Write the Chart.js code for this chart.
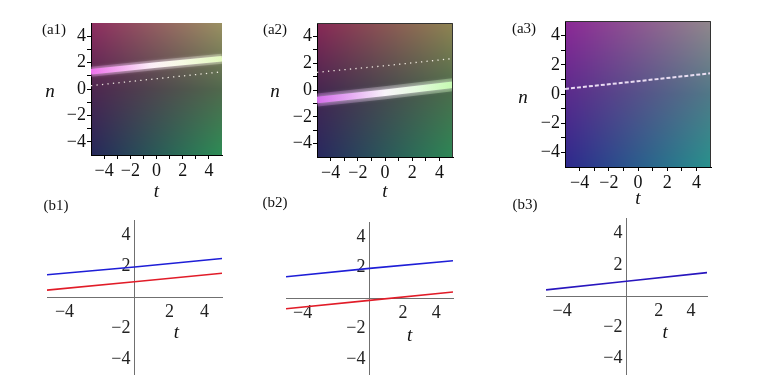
<!DOCTYPE html>
<html>
<head>
<meta charset="utf-8">
<script src="https://cdn.jsdelivr.net/npm/chart.js@4.4.1/dist/chart.umd.min.js"></script>
<style>
  html, body { margin: 0; padding: 0; background: #fff; }
  #fig { position: relative; width: 763px; height: 389px; overflow: hidden; }
  #fig canvas { position: absolute; }
</style>
</head>
<body>
<div id="fig">
  <canvas id="a1"></canvas>
  <canvas id="a2"></canvas>
  <canvas id="a3"></canvas>
  <canvas id="b1"></canvas>
  <canvas id="b2"></canvas>
  <canvas id="b3"></canvas>
</div>
<script>
// t samples where the curves were read (left edge, middle, right edge)
const tSamples = [-5, 0, 5];

// top row: density plots
const a1Band = [1.3, 1.82, 2.3];
const a1Dots = [0.25, 0.78, 1.3];
const a2Band = [-0.75, -0.2, 0.4];
const a2Dots = [1.32, 1.81, 2.35];
const a3Dash = [0.35, 0.88, 1.42];

// bottom row: line plots
const b1Blue = [1.45, 1.95, 2.5];
const b1Red = [0.45, 1.0, 1.55];
const b2Blue = [1.4, 1.95, 2.45];
const b2Red = [-0.7, -0.15, 0.4];
const b3Blue = [0.4, 0.95, 1.5];

// tick values
const heatTicks = [-4, -3, -2, -1, 0, 1, 2, 3, 4];
const lineXTicks = [-4, 2, 4];
const lineYTicks = [-4, -2, 2, 4];

const SERIF = "'Liberation Serif', 'Times New Roman', serif";

const fmt = v => (v < 0 ? '\u2212' + Math.abs(v) : String(v));
const pts = arr => tSamples.map((t, i) => ({ x: t, y: arr[i] }));

// colour field behind the density plots (rows: top, n=0, bottom; cols: left, right)
const heatA1 = [[[142, 45, 96], [154, 144, 98]], [[78, 38, 80], [80, 104, 76]], [[38, 40, 90], [45, 140, 85]]];
const heatA2 = [[[136, 40, 86], [142, 132, 82]], [[70, 38, 80], [75, 108, 75]], [[40, 40, 95], [45, 135, 85]]];
const heatA3 = [[[140, 40, 150], [145, 135, 140]], [[90, 42, 140], [80, 120, 135]], [[45, 40, 140], [40, 145, 140]]];

// text placed on each panel (page pixels, or data coords via "at")
const noteMap = {};

const heatField = {
  id: 'heatField',
  beforeDraw(chart, args, opts) {
    if (!opts.colors) return;
    const { ctx, chartArea: a } = chart;
    const c = opts.colors;
    const x0 = Math.round(a.left), y0 = Math.round(a.top);
    const w = Math.round(a.right) - x0, h = Math.round(a.bottom) - y0;
    const img = ctx.createImageData(w, h);
    const lerp = (p, q, f) => p + (q - p) * f;
    for (let j = 0; j < h; j++) {
      const v = j / (h - 1);
      const r0 = v < 0.5 ? c[0] : c[1];
      const r1 = v < 0.5 ? c[1] : c[2];
      const f = v < 0.5 ? v * 2 : (v - 0.5) * 2;
      for (let i = 0; i < w; i++) {
        const u = i / (w - 1);
        const k = (j * w + i) * 4;
        for (let ch = 0; ch < 3; ch++) {
          img.data[k + ch] = lerp(lerp(r0[0][ch], r0[1][ch], u), lerp(r1[0][ch], r1[1][ch], u), f);
        }
        img.data[k + 3] = 255;
      }
    }
    ctx.putImageData(img, x0, y0);
  }
};

const glow = {
  id: 'glow',
  beforeDatasetDraw(chart, args) {
    const ds = chart.data.datasets[args.index];
    chart.ctx.save();
    if (ds.glowColor) {
      chart.ctx.shadowColor = ds.glowColor;
      chart.ctx.shadowBlur = ds.glowBlur || 6;
    }
  },
  afterDatasetDraw(chart) {
    chart.ctx.restore();
  }
};

const frame = {
  id: 'frame',
  afterDraw(chart, args, opts) {
    if (!opts.color) return;
    const { ctx, chartArea: a } = chart;
    ctx.save();
    ctx.strokeStyle = opts.color;
    ctx.lineWidth = 1;
    ctx.beginPath();
    ctx.moveTo(a.left, a.top + 0.5);
    ctx.lineTo(a.right - 0.5, a.top + 0.5);
    ctx.lineTo(a.right - 0.5, a.bottom);
    ctx.stroke();
    ctx.restore();
  }
};

const notes = {
  id: 'notes',
  afterDraw(chart) {
    const entry = noteMap[chart.canvas.id];
    if (!entry) return;
    const ctx = chart.ctx;
    entry.items.forEach(it => {
      let x, y;
      if (it.at) {
        x = chart.scales.x.getPixelForValue(it.at[0]);
        y = chart.scales.y.getPixelForValue(it.at[1]);
      } else {
        x = it.x - entry.box.l;
        y = it.y - entry.box.t;
      }
      ctx.save();
      ctx.font = (it.italic ? 'italic ' : '') + it.size + 'px ' + SERIF;
      ctx.fillStyle = '#111';
      ctx.textAlign = 'center';
      ctx.textBaseline = 'middle';
      ctx.fillText(it.text, x, y);
      ctx.restore();
    });
  }
};

Chart.register(heatField, glow, frame, notes);

function place(id, box, labels) {
  const cv = document.getElementById(id);
  cv.width = box.w;
  cv.height = box.h;
  cv.style.left = box.l + 'px';
  cv.style.top = box.t + 'px';
  noteMap[id] = { box, items: labels };
  return cv;
}

function bandGradient(stops) {
  return c => {
    const a = c.chart.chartArea;
    if (!a) return '#fff';
    const g = c.chart.ctx.createLinearGradient(a.left, 0, a.right, 0);
    stops.forEach(s => g.addColorStop(s[0], s[1]));
    return g;
  };
}

function heatPanel(id, box, area, colors, datasets, labels, frameColor) {
  const cv = place(id, box, labels);
  const yW = area.l - box.l;
  const xH = box.t + box.h - area.b;
  const axisCommon = {
    type: 'linear', min: -5, max: 5,
    grid: { drawOnChartArea: false, tickLength: 4, color: '#000', tickColor: '#000' },
    border: { color: '#000', width: 1 },
    ticks: {
      font: { family: SERIF, size: 18 }, color: '#111', padding: 1,
      maxRotation: 0, autoSkip: false,
      callback: v => (v % 2 === 0 ? fmt(v) : '')
    }
  };
  return new Chart(cv, {
    type: 'line',
    data: { datasets },
    options: {
      responsive: false, animation: false, events: [],
      layout: { padding: { left: 0, top: area.t - box.t, right: box.l + box.w - area.r, bottom: 0 } },
      elements: { point: { radius: 0 }, line: { tension: 0 } },
      plugins: {
        legend: { display: false }, tooltip: { enabled: false },
        heatField: { colors },
        frame: { color: frameColor }
      },
      scales: {
        x: Object.assign({}, axisCommon, {
          afterBuildTicks: s => { s.ticks = heatTicks.map(v => ({ value: v })); },
          afterFit: s => { s.height = xH; },
          title: { display: true, text: 't', color: '#111', padding: 0,
                   font: { family: SERIF, size: 19, style: 'italic', lineHeight: 1 } }
        }),
        y: Object.assign({}, axisCommon, {
          afterBuildTicks: s => { s.ticks = heatTicks.map(v => ({ value: v })); },
          afterFit: s => { s.width = yW; }
        })
      }
    }
  });
}

function linePanel(id, box, area, datasets, labels) {
  const cv = place(id, box, labels);
  const axisCommon = {
    type: 'linear', min: -5, max: 5, position: 'center',
    grid: { display: true, drawOnChartArea: false, drawTicks: false },
    border: { color: '#707070', width: 1 },
    ticks: { font: { family: SERIF, size: 18 }, color: '#222', padding: 4, maxRotation: 0, autoSkip: false, callback: v => fmt(v) }
  };
  return new Chart(cv, {
    type: 'line',
    data: { datasets },
    options: {
      responsive: false, animation: false, events: [],
      layout: { padding: { left: area.l - box.l, top: area.t - box.t, right: box.l + box.w - area.r, bottom: box.t + box.h - area.b } },
      elements: { point: { radius: 0 }, line: { tension: 0 } },
      plugins: { legend: { display: false }, tooltip: { enabled: false } },
      scales: {
        x: Object.assign({}, axisCommon, {
          afterBuildTicks: s => { s.ticks = lineXTicks.map(v => ({ value: v })); }
        }),
        y: Object.assign({}, axisCommon, {
          afterBuildTicks: s => { s.ticks = lineYTicks.map(v => ({ value: v })); }
        })
      }
    }
  });
}

const bandStopsA1 = [[0, 'rgb(238,112,236)'], [0.25, 'rgb(246,180,242)'], [0.45, 'rgb(252,238,248)'], [0.7, 'rgb(248,252,228)'], [1, 'rgb(228,250,190)']];
const bandStopsA2 = [[0, 'rgb(214,108,236)'], [0.25, 'rgb(228,168,242)'], [0.5, 'rgb(246,242,248)'], [0.75, 'rgb(228,252,222)'], [1, 'rgb(196,250,176)']];
const haloStopsA1 = [[0, 'rgba(236,118,236,0.3)'], [0.5, 'rgba(255,245,250,0.22)'], [1, 'rgba(226,250,190,0.3)']];
const haloStopsA2 = [[0, 'rgba(214,112,236,0.3)'], [0.5, 'rgba(255,250,255,0.25)'], [1, 'rgba(196,250,176,0.35)']];

// (a1)
heatPanel('a1', { l: 30, t: 0, w: 215, h: 201 }, { l: 91, t: 23, r: 222, b: 155 }, heatA1, [
  { data: pts(a1Band), borderColor: bandGradient(haloStopsA1), borderWidth: 10 },
  { data: pts(a1Band), borderColor: bandGradient(bandStopsA1), borderWidth: 5.5, glowColor: 'rgba(255,230,255,0.7)', glowBlur: 4 },
  { data: pts(a1Band), borderColor: 'rgba(110,105,120,0.6)', borderWidth: 1.2, borderDash: [2, 3] },
  { data: pts(a1Dots), borderColor: 'rgba(255,250,240,0.9)', borderWidth: 1.3, borderDash: [1.3, 4.2] }
], [
  { text: '(a1)', x: 54, y: 30, size: 15 },
  { text: 'n', x: 50, y: 92, size: 19, italic: true }
]);

// (a2)
heatPanel('a2', { l: 255, t: 0, w: 215, h: 201 }, { l: 317, t: 23, r: 453, b: 157 }, heatA2, [
  { data: pts(a2Band), borderColor: bandGradient(haloStopsA2), borderWidth: 13 },
  { data: pts(a2Band), borderColor: bandGradient(bandStopsA2), borderWidth: 6.5, glowColor: 'rgba(250,235,255,0.7)', glowBlur: 5 },
  { data: pts(a2Band), borderColor: 'rgba(120,115,130,0.45)', borderWidth: 1.2, borderDash: [2, 3] },
  { data: pts(a2Dots), borderColor: 'rgba(255,250,240,0.9)', borderWidth: 1.3, borderDash: [1.3, 4.2] }
], [
  { text: '(a2)', x: 275, y: 30, size: 15 },
  { text: 'n', x: 275, y: 92, size: 19, italic: true }
], '#333');

// (a3)
heatPanel('a3', { l: 500, t: 0, w: 230, h: 208 }, { l: 565, t: 21, r: 711, b: 167 }, heatA3, [
  { data: pts(a3Dash), borderColor: 'rgba(240,228,248,0.95)', borderWidth: 2, borderDash: [4, 2] }
], [
  { text: '(a3)', x: 524, y: 29, size: 15 },
  { text: 'n', x: 523, y: 98, size: 19, italic: true }
], '#333');

// (b1)
linePanel('b1', { l: 30, t: 195, w: 220, h: 194 }, { l: 47, t: 220, r: 222, b: 380 }, [
  { data: pts(b1Blue), borderColor: 'rgb(30,30,215)', borderWidth: 1.6 },
  { data: pts(b1Red), borderColor: 'rgb(225,28,40)', borderWidth: 1.6 }
], [
  { text: '(b1)', x: 56, y: 206, size: 15 },
  { text: 't', at: [2.4, -2.3], size: 19, italic: true }
]);

// (b2)
linePanel('b2', { l: 255, t: 195, w: 215, h: 194 }, { l: 286, t: 222, r: 453, b: 378 }, [
  { data: pts(b2Blue), borderColor: 'rgb(30,30,215)', borderWidth: 1.6 },
  { data: pts(b2Red), borderColor: 'rgb(225,28,40)', borderWidth: 1.6 }
], [
  { text: '(b2)', x: 275, y: 203, size: 15 },
  { text: 't', at: [2.4, -2.5], size: 19, italic: true }
]);

// (b3)
linePanel('b3', { l: 500, t: 195, w: 230, h: 194 }, { l: 546, t: 218, r: 707, b: 375 }, [
  { data: pts(b3Blue), borderColor: 'rgb(40,22,190)', borderWidth: 1.6 }
], [
  { text: '(b3)', x: 525, y: 205, size: 15 },
  { text: 't', at: [2.4, -2.35], size: 19, italic: true }
]);
</script>
</body>
</html>
